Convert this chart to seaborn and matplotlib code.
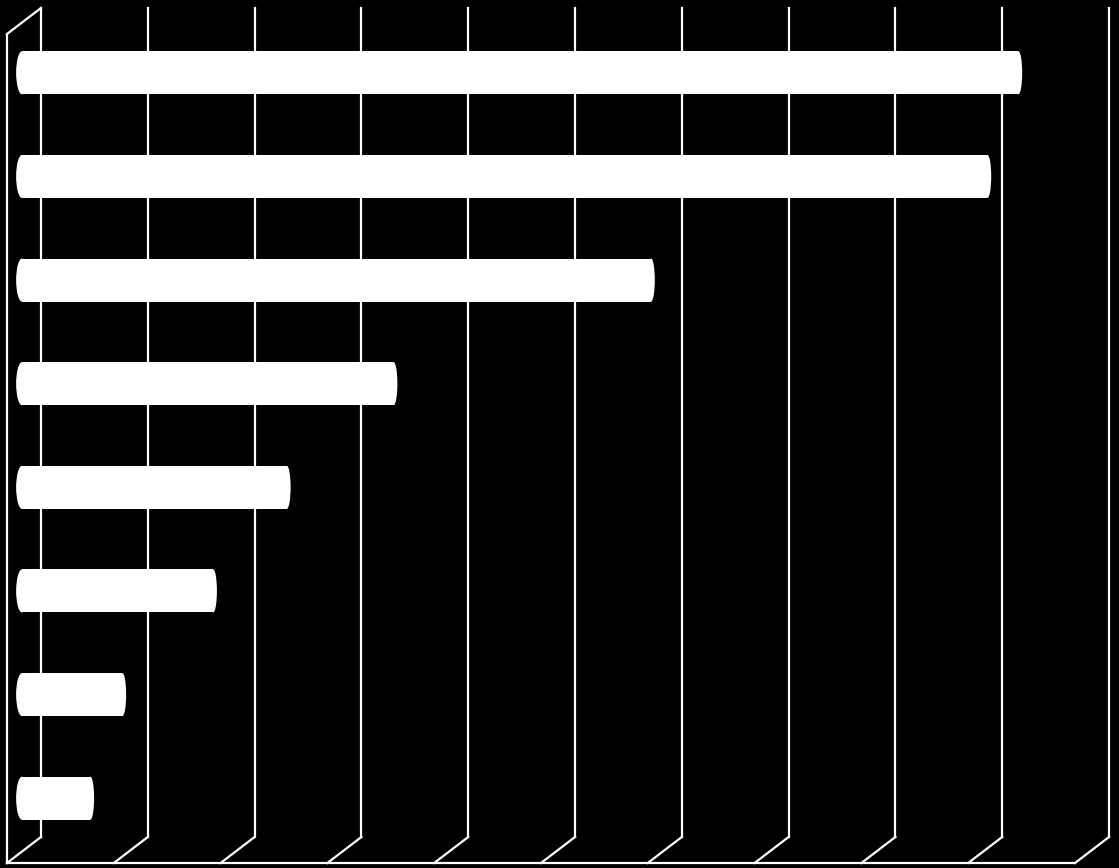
import matplotlib
matplotlib.use("Agg")
import matplotlib.pyplot as plt
from matplotlib.patches import Ellipse
from matplotlib.lines import Line2D
from matplotlib.transforms import IdentityTransform
import seaborn as sns
import pandas as pd

# values (one grid step = 1 unit, no labels shown)
categories = ["c1", "c2", "c3", "c4", "c5", "c6", "c7", "c8"]
values = [9.33, 9.04, 5.89, 3.48, 2.48, 1.79, 0.94, 0.64]
grid_ticks = list(range(0, 11))

df = pd.DataFrame({"category": categories, "value": values})

W, H, DPI = 1119, 868, 100
fig = plt.figure(figsize=(W / DPI, H / DPI), dpi=DPI, facecolor="black")
lw = 1.6

# back wall of the 3-D box (grid lines are drawn below, behind the bars)
ax_back = fig.add_axes([41 / W, 31 / H, 1068 / W, 829 / H], zorder=0)
ax_back.set_xlim(0, 10)
ax_back.set_ylim(0, 1)
ax_back.set_axis_off()

# mid-depth plane: the bars
ax = fig.add_axes([22 / W, 18 / H, 1068 / W, 829 / H], zorder=2)
ax.patch.set_alpha(0)
sns.barplot(data=df, x="value", y="category", orient="h", color="white",
            width=0.415, saturation=1, linewidth=0, ax=ax)
ax.set_xlim(0, 10)
ax.set_ylim(len(categories) - 0.5, -0.5)
ax.set_axis_off()

# rounded cylinder ends
for p in list(ax.patches):
    yc = p.get_y() + p.get_height() / 2
    x0, x1 = p.get_x(), p.get_x() + p.get_width()
    for xc, half in [(x0, 0.055), (x1, 0.035)]:
        ax.add_patch(Ellipse((xc, yc), 2 * half, p.get_height(), facecolor="white",
                             edgecolor="none", clip_on=False))

# grid lines, floor and side wall of the box
fig.canvas.draw()
dx, dy = -34, -26
def seg(p, q):
    fig.add_artist(Line2D([p[0], q[0]], [p[1], q[1]], color="white", lw=lw,
                          transform=IdentityTransform(), zorder=1))

bottoms = [ax_back.transData.transform((k, 0)) for k in grid_ticks]
tops = [ax_back.transData.transform((k, 1)) for k in grid_ticks]
for b, t in zip(bottoms, tops):
    seg(t, b)
    seg(b, (b[0] + dx, b[1] + dy))
seg((bottoms[0][0] + dx, bottoms[0][1] + dy), (bottoms[-1][0] + dx, bottoms[-1][1] + dy))
t0 = tops[0]
seg(t0, (t0[0] + dx, t0[1] + dy))
seg((t0[0] + dx, t0[1] + dy), (bottoms[0][0] + dx, bottoms[0][1] + dy))

fig.savefig("out.png", dpi=DPI, facecolor="black")
